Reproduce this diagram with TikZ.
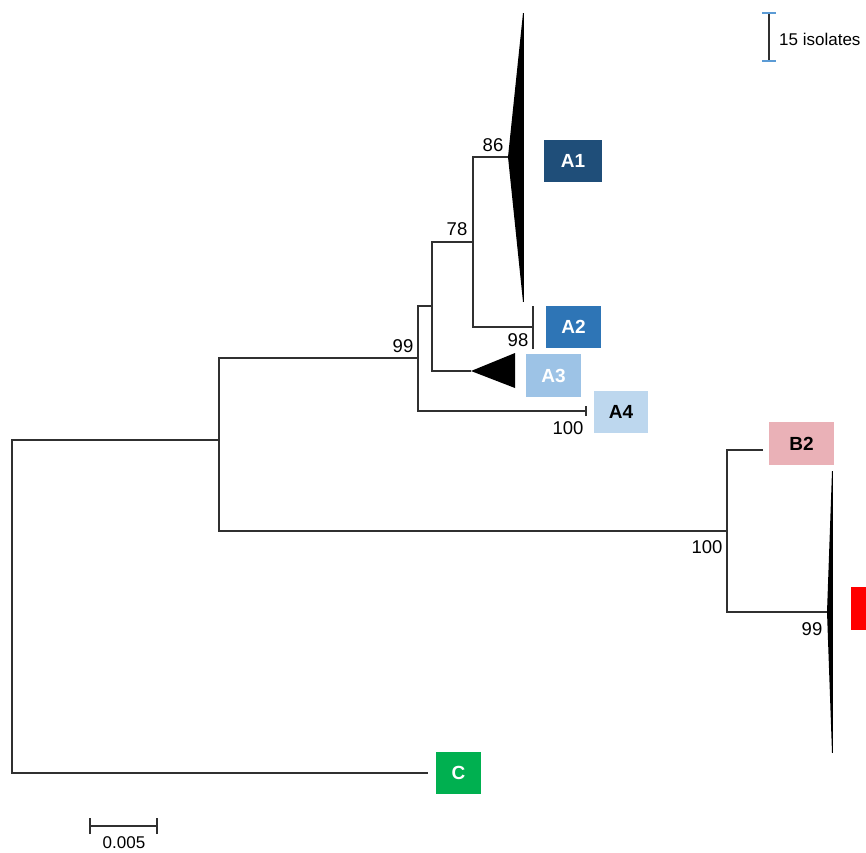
\documentclass[tikz,border=0pt]{standalone}
\usepackage{fontspec}
\setmainfont{Liberation Sans}
\definecolor{branch}{HTML}{303030}
\definecolor{cA1}{HTML}{1F4E79}
\definecolor{cA2}{HTML}{2E75B6}
\definecolor{cA3}{HTML}{9DC3E6}
\definecolor{cA4}{HTML}{BDD7EE}
\definecolor{cB2}{HTML}{EAB1B7}
\definecolor{cC}{HTML}{00B050}
\definecolor{cRed}{HTML}{FF0000}
\definecolor{tickblue}{HTML}{5B9BD5}
\tikzset{
  br/.style={draw=branch, line width=1.4pt},
  clade/.style={inner sep=0pt, minimum height=42pt, font=\fontsize{19}{21}\selectfont\bfseries},
  boot/.style={inner sep=0pt, font=\fontsize{18.5}{20}\selectfont},
}
\begin{document}
\begin{tikzpicture}[x=1pt,y=-1pt]
\useasboundingbox (0,0) rectangle (866,852);
% coordinates of tree
\coordinate (r) at (12,440);
\coordinate (rc) at (12,773);
\coordinate (cend) at (428,773);
\coordinate (n1) at (219,440);
\coordinate (n1a) at (219,358);
\coordinate (n1b) at (219,531);
\coordinate (nA) at (418,358);
\coordinate (nAt) at (418,306);
\coordinate (nAb) at (418,411);
\coordinate (a4end) at (586,411);
\coordinate (nA2) at (432,306);
\coordinate (nA2t) at (432,242);
\coordinate (nA2b) at (432,371);
\coordinate (a3tip) at (471,371);
\coordinate (nA3) at (473,242);
\coordinate (nA3t) at (473,157);
\coordinate (nA3b) at (473,327);
\coordinate (a1tip) at (508,157);
\coordinate (a2end) at (533,327);
\coordinate (nB) at (727,531);
\coordinate (nBt) at (727,450);
\coordinate (nBb) at (727,612);
\coordinate (b2end) at (763,450);
\coordinate (b1tip) at (827,612);
% branches
\draw[br] (n1) -- (r) -- (rc) -- (cend);
\draw[br] (nA) -- (n1a) -- (n1b) -- (nB);
\draw[br] (nA2) -- (nAt) -- (nAb) -- (a4end);
\draw[br] (nA3) -- (nA2t) -- (nA2b) -- (a3tip);
\draw[br] (a1tip) -- (nA3t) -- (nA3b) -- (a2end);
\draw[br] (b2end) -- (nBt) -- (nBb) -- (b1tip);
% leaf ticks
\draw[br] ([yshift=-5pt]a4end) -- ([yshift=5pt]a4end);
\draw[br] ([yshift=-22pt]a2end) -- ([yshift=21pt]a2end);
% collapsed clades
\fill[black] (a1tip) -- (523,13) -- (523,302) -- cycle;
\draw[black, line width=0.8pt] (523,13) -- (523,302);
\fill[black] (a3tip) -- (515,353) -- (515,388) -- cycle;
\fill[black] (b1tip) -- (832,471) -- (832,753) -- cycle;
\draw[black, line width=1pt] (832,471) -- (832,753);
% bootstrap values
\node[boot] (bs86) at (493,145) {86};
\node[boot] (bs78) at (457,229) {78};
\node[boot] (bs99a) at (403,346) {99};
\node[boot] (bs98) at (518,340) {98};
\node[boot] (bs100a) at (568,428) {100};
\node[boot] (bs100b) at (707,547) {100};
\node[boot] (bs99b) at (812,629) {99};
% clade boxes
\node[clade, fill=cA1, text=white, minimum width=58pt] (A1) at (573,161) {A1};
\node[clade, fill=cA2, text=white, minimum width=55pt] (A2) at (573.5,327) {A2};
\node[clade, fill=cA3, text=white, minimum width=55pt, minimum height=43pt] (A3) at (553.5,375.5) {A3};
\node[clade, fill=cA4, text=black, minimum width=54pt] (A4) at (621,412) {A4};
\node[clade, fill=cB2, text=black, minimum width=65pt, minimum height=43pt] (B2) at (801.5,443.5) {B2};
\node[clade, fill=cC, text=white, minimum width=45pt] (C) at (458.5,773) {C};
\fill[cRed] (851,587) rectangle (866,630);
% isolates scale
\coordinate (it) at (769,13);
\coordinate (ib) at (769,61);
\draw[br, line width=1.2pt] (it) -- (ib);
\draw[tickblue, line width=1.2pt] ([xshift=-7pt]it) -- ([xshift=7pt]it);
\draw[tickblue, line width=1.2pt] ([xshift=-7pt]ib) -- ([xshift=7pt]ib);
\node[anchor=west, inner sep=0pt, font=\fontsize{17}{19}\selectfont] (iso) at (779,39) {15 isolates};
% distance scale
\coordinate (s1) at (90,826);
\coordinate (s2) at (157,826);
\draw[br, line width=1.2pt] (s1) -- (s2);
\draw[br, line width=1.2pt] ([yshift=-8pt]s1) -- ([yshift=8pt]s1);
\draw[br, line width=1.2pt] ([yshift=-8pt]s2) -- ([yshift=8pt]s2);
\node[inner sep=0pt, font=\fontsize{17}{19}\selectfont] (sl) at (124,843) {0.005};
\end{tikzpicture}
\end{document}
